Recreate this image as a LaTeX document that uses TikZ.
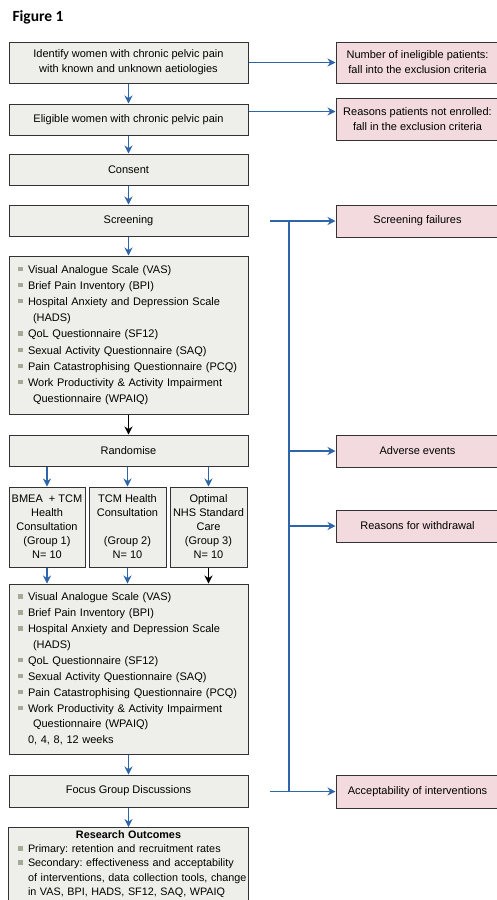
\documentclass[tikz,border=0pt]{standalone}
\usepackage{fontspec}
\setmainfont{Liberation Sans}
\newfontfamily\titlefont{Carlito}
\usepackage{xcolor}
\usetikzlibrary{arrows.meta, positioning, backgrounds}
\frenchspacing

\definecolor{boxgray}{HTML}{EEEEEA}
\definecolor{boxpink}{HTML}{F2DADE}
\definecolor{arrowblue}{HTML}{2E64A8}
\definecolor{edgegray}{HTML}{333333}
\definecolor{bulletgray}{HTML}{A3AA95}
\newcommand{\bul}{\makebox[10pt][l]{\textcolor{bulletgray}{\rule[2pt]{4.5pt}{4.5pt}}}}

\begin{document}
\begin{tikzpicture}[x=1pt, y=1pt, >={Stealth[length=8pt,width=8pt]},
    mainbox/.style={draw=edgegray, line width=1pt, fill=boxgray, minimum width=239pt, align=center, font=\fontsize{11}{15}\selectfont, inner sep=2pt},
    sidebox/.style={draw=edgegray, line width=1pt, fill=boxpink, minimum width=163pt, align=center, font=\fontsize{11}{15}\selectfont, inner sep=2pt},
    groupbox/.style={mainbox, minimum width=76pt, minimum height=80pt, font=\fontsize{11}{14}\selectfont},
    listbox/.style={draw=edgegray, line width=1pt, fill=boxgray, text width=221pt, inner xsep=9pt, align=left, font=\fontsize{11}{16.2}\selectfont},
    flow/.style={->, arrowblue, line width=1.1pt},
    flowdark/.style={->, black, line width=1.1pt}
]
    \useasboundingbox (0,0) rectangle (496,-900);

    % Title
    \node[anchor=west, font=\titlefont\fontsize{15.5}{17}\selectfont\bfseries] (title) at (9,-17.5) {Figure 1};

    % Main column
    \node[mainbox, minimum height=41pt] (ident) at (128.5,-62.5) {Identify women with chronic pelvic pain\\with known and unknown aetiologies};
    \node[mainbox, minimum height=31pt] (elig) at (128.5,-119.5) {Eligible women with chronic pelvic pain};
    \node[mainbox, minimum height=31pt] (consent) at (128.5,-169.5) {Consent};
    \node[mainbox, minimum height=31pt] (screen) at (128.5,-220.5) {Screening};
    \node[listbox, minimum height=158pt] (base) at (128.5,-335) {\bul Visual Analogue Scale (VAS)\\
        \bul Brief Pain Inventory (BPI)\\
        \bul Hospital Anxiety and Depression Scale\\
        \hspace*{15pt}(HADS)\\
        \bul QoL Questionnaire (SF12)\\
        \bul Sexual Activity Questionnaire (SAQ)\\
        \bul Pain Catastrophising Questionnaire (PCQ)\\
        \bul Work Productivity \& Activity Impairment\\
        \hspace*{15pt}Questionnaire (WPAIQ)};
    \node[mainbox, minimum height=31pt] (rand) at (128.5,-450.5) {Randomise};

    % Groups
    \node[groupbox] (g1) at (47,-527) {BMEA\ \ + TCM\\Health\\Consultation\\(Group 1)\\N= 10};
    \node[groupbox, minimum width=77pt] (g2) at (127.5,-527) {TCM Health\\Consultation\\[14pt](Group 2)\\N= 10};
    \node[groupbox, minimum width=77pt] (g3) at (208.5,-527) {Optimal\\NHS Standard\\Care\\(Group 3)\\N= 10};

    \node[listbox, minimum height=170pt, font=\fontsize{11}{15.9}\selectfont] (follow) at (128.5,-669) {\bul Visual Analogue Scale (VAS)\\
        \bul Brief Pain Inventory (BPI)\\
        \bul Hospital Anxiety and Depression Scale\\
        \hspace*{15pt}(HADS)\\
        \bul QoL Questionnaire (SF12)\\
        \bul Sexual Activity Questionnaire (SAQ)\\
        \bul Pain Catastrophising Questionnaire (PCQ)\\
        \bul Work Productivity \& Activity Impairment\\
        \hspace*{15pt}Questionnaire (WPAIQ)\\
        \hspace*{10pt}0, 4, 8, 12 weeks};
    \node[mainbox, minimum height=32pt] (focus) at (128.5,-791) {Focus Group Discussions};
    \node[listbox, anchor=north, draw=none, fill=none, inner ysep=3pt, font=\fontsize{10.8}{14.3}\selectfont] (outc) at (128.5,-827) {\makebox[221pt]{\textbf{Research Outcomes}}\\
        \mbox{\bul Primary: retention and recruitment rates}\\
        \mbox{\bul Secondary: effectiveness and acceptability}\\
        \mbox{\hspace*{10pt}of interventions, data collection tools, change}\\
        \mbox{\hspace*{10pt}in VAS, BPI, HADS, SF12, SAQ, WPAIQ}};
    \coordinate (outbot) at (0,-915);
    \begin{scope}[on background layer]
        \draw[draw=edgegray, line width=1pt, fill=boxgray] (outc.north west) rectangle (outc.east |- outbot);
    \end{scope}

    % Side column
    \node[sidebox, minimum height=41pt] (inelig) at (417.5,-62.5) {Number of ineligible patients:\\fall into the exclusion criteria};
    \node[sidebox, minimum height=42pt] (notenr) at (417.5,-119) {Reasons patients not enrolled:\\fall in the exclusion criteria};
    \node[sidebox, minimum height=32pt] (sfail) at (417.5,-221) {Screening failures};
    \node[sidebox, minimum height=32pt] (adverse) at (417.5,-451) {Adverse events};
    \node[sidebox, minimum height=32pt] (withdr) at (417.5,-526) {Reasons for withdrawal};
    \node[sidebox, minimum height=33pt] (accept) at (417.5,-791.5) {Acceptability of interventions};

    % Main flow arrows
    \draw[flow] (ident) -- (elig);
    \draw[flow] (elig) -- (consent);
    \draw[flow] (consent) -- (screen);
    \draw[flow] (screen) -- (base);
    \draw[flowdark] (base) -- (rand);
    \draw[flow] (rand.south -| g1) -- (g1);
    \draw[flow] (rand.south -| g2) -- (g2);
    \draw[flow] (rand.south -| g3) -- (g3);
    \draw[flow] (g1) -- (g1 |- follow.north);
    \draw[flow] (g2) -- (g2 |- follow.north);
    \draw[flowdark] (g3) -- (g3 |- follow.north);
    \draw[flow] (follow) -- (focus);
    \draw[flow] (focus) -- (outc);

    % Side arrows
    \draw[flow] (ident) -- (inelig);
    \draw[flow] ([yshift=8pt]elig.east) -- ([yshift=8pt]elig.east -| notenr.west);
    \coordinate (trunktop) at (289,-221);
    \coordinate (trunkbot) at (289,-791.5);
    \coordinate (sfstart) at (270,-221);
    \coordinate (acstart) at (270,-791.5);
    \draw[flow] (sfstart) -- (sfail);
    \draw[arrowblue, line width=1.1pt] (trunktop) -- (trunkbot);
    \draw[flow] (trunktop |- adverse) -- (adverse);
    \draw[flow] (trunktop |- withdr) -- (withdr);
    \draw[flow] (acstart) -- (accept);
\end{tikzpicture}
\end{document}
